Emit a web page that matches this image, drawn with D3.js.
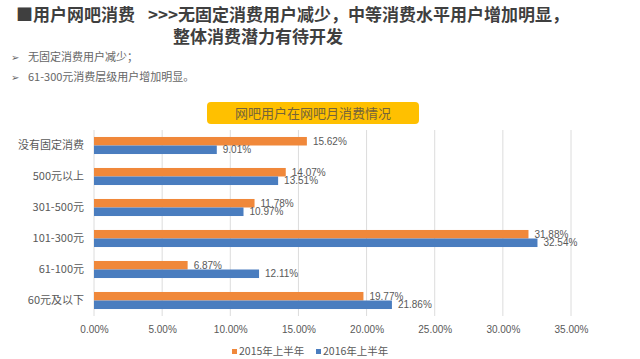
<!DOCTYPE html>
<html>
<head>
<meta charset="utf-8">
<script src="https://cdn.jsdelivr.net/npm/d3@7"></script>
<style>
  body { margin: 0; background: #fff; }
  text { font-family: "Noto Sans CJK SC", "Liberation Sans", sans-serif; }
</style>
</head>
<body>
<div id="chart"></div>
<script>
// 数据
let categories = ["没有固定消费", "500元以上", "301-500元", "101-300元", "61-100元", "60元及以下"];
let series2015 = [15.62, 14.07, 11.78, 31.88, 6.87, 19.77];
let series2016 = [9.01, 13.51, 10.97, 32.54, 12.11, 21.86];
let seriesNames = ["2015年上半年", "2016年上半年"];
let xTicks = [0, 5, 10, 15, 20, 25, 30, 35];

function draw() {
    let width = 640;
    let height = 359;
    let svg = d3.select("#chart").append("svg")
        .attr("width", width)
        .attr("height", height);

    const colors = ["#F0883A", "#4A7DBF"];

    // 标题
    svg.append("text")
        .attr("x", 16).attr("y", 21)
        .attr("font-size", 17).attr("font-weight", "bold").attr("fill", "#3f3f3f")
        .text("■用户网吧消费");
    svg.append("text")
        .attr("x", 148).attr("y", 21)
        .attr("font-size", 17).attr("font-weight", "bold").attr("fill", "#3f3f3f")
        .text(">>>无固定消费用户减少，中等消费水平用户增加明显，");
    svg.append("text")
        .attr("x", 173).attr("y", 43)
        .attr("font-size", 17).attr("font-weight", "bold").attr("fill", "#3f3f3f")
        .text("整体消费潜力有待开发");

    // 要点
    let bullets = ["无固定消费用户减少；", "61-300元消费层级用户增加明显。"];
    bullets.forEach((b, i) => {
        svg.append("text")
            .attr("x", 11).attr("y", 61 + i * 20)
            .attr("font-size", 10).attr("fill", "#666")
            .text("➢");
        svg.append("text")
            .attr("x", 28).attr("y", 61 + i * 20)
            .attr("font-size", 11).attr("fill", "#666")
            .text(b);
    });

    // 图表标题框
    svg.append("rect")
        .attr("x", 207).attr("y", 102).attr("width", 212).attr("height", 22)
        .attr("rx", 4).attr("fill", "#FFC000");
    svg.append("text")
        .attr("x", 313).attr("y", 118).attr("text-anchor", "middle")
        .attr("font-size", 13).attr("fill", "#75643a")
        .text("网吧用户在网吧月消费情况");

    let x = d3.scaleLinear().domain([0, 35]).range([94, 571]);
    let y = d3.scaleBand().domain(categories).range([130, 316]).paddingInner(0.45).paddingOuter(0.225);
    let sub = d3.scaleBand().domain([0, 1]).range([0, y.bandwidth()]);

    // 网格线
    svg.append("g").selectAll("line")
        .data(xTicks)
        .enter().append("line")
        .attr("x1", d => x(d)).attr("x2", d => x(d))
        .attr("y1", 130).attr("y2", 316)
        .attr("stroke", "#dcdcdc").attr("stroke-width", 1);

    // X 轴
    let xAxis = svg.append("g")
        .attr("transform", "translate(0,316)")
        .call(d3.axisBottom(x).tickValues(xTicks).tickFormat(d => d.toFixed(2) + "%").tickSize(0).tickPadding(10));
    xAxis.select(".domain").remove();
    xAxis.selectAll("text").attr("font-size", 10).attr("fill", "#595959")
        .style("font-family", "\"Liberation Sans\", sans-serif");

    // Y 轴
    let yAxis = svg.append("g")
        .attr("transform", "translate(94,0)")
        .call(d3.axisLeft(y).tickSize(0).tickPadding(10));
    yAxis.select(".domain").remove();
    yAxis.selectAll("text").attr("font-size", 11).attr("fill", "#595959");

    let allSeries = [series2015, series2016];
    allSeries.forEach((vals, i) => {
        let g = svg.append("g");
        g.selectAll("rect")
            .data(vals)
            .enter().append("rect")
            .attr("x", x(0))
            .attr("y", (d, j) => y(categories[j]) + sub(i))
            .attr("width", d => x(d) - x(0))
            .attr("height", sub.bandwidth())
            .attr("fill", colors[i]);
        g.selectAll("text")
            .data(vals)
            .enter().append("text")
            .attr("x", d => x(d) + 6)
            .attr("y", (d, j) => y(categories[j]) + sub(i) + sub.bandwidth() / 2)
            .attr("dy", "0.35em")
            .attr("font-size", 10).attr("fill", "#595959")
            .style("font-family", "\"Liberation Sans\", sans-serif")
            .text(d => d.toFixed(2) + "%");
    });

    // 图例
    let legendX = [232, 316];
    seriesNames.forEach((name, i) => {
        svg.append("rect")
            .attr("x", legendX[i]).attr("y", 349).attr("width", 5).attr("height", 5)
            .attr("fill", colors[i]);
        svg.append("text")
            .attr("x", legendX[i] + 7).attr("y", 355)
            .attr("font-size", 10.5).attr("fill", "#595959")
            .text(name);
    });
}

draw();
</script>
</body>
</html>
